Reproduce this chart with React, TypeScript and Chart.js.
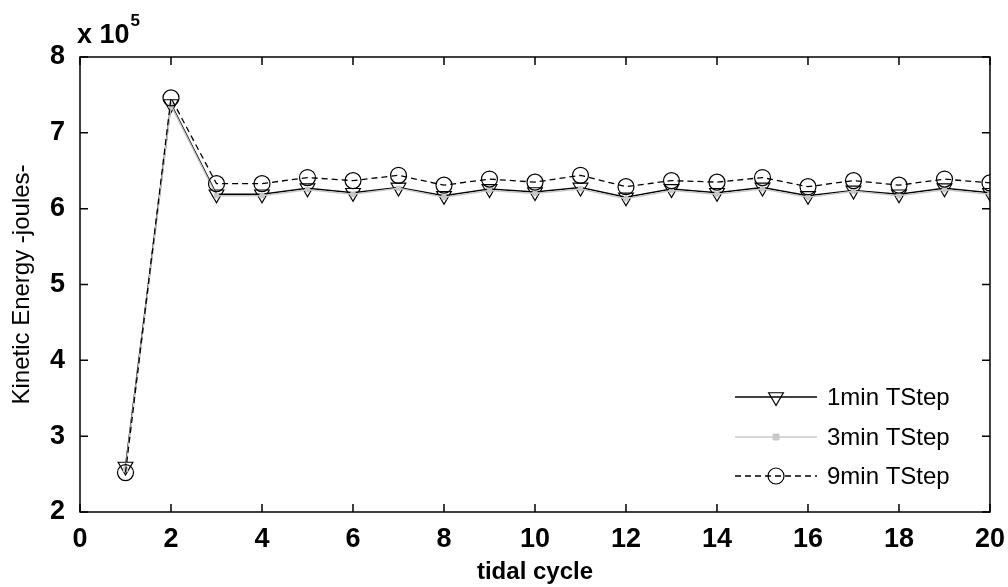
import React, { useEffect, useRef } from "react";
import { Chart, registerables } from "chart.js";

Chart.register(...registerables);

const cycles = [1, 2, 3, 4, 5, 6, 7, 8, 9, 10, 11, 12, 13, 14, 15, 16, 17, 18, 19, 20];
const oneMin = [2.6, 7.38, 6.19, 6.19, 6.27, 6.21, 6.28, 6.17, 6.26, 6.22, 6.28, 6.15, 6.26, 6.21, 6.28, 6.17, 6.24, 6.19, 6.27, 6.21];
const threeMin = [2.56, 7.36, 6.17, 6.17, 6.25, 6.19, 6.27, 6.15, 6.24, 6.2, 6.26, 6.13, 6.24, 6.19, 6.26, 6.15, 6.23, 6.17, 6.25, 6.19];
const nineMin = [2.52, 7.46, 6.33, 6.33, 6.41, 6.37, 6.44, 6.31, 6.39, 6.35, 6.44, 6.29, 6.37, 6.35, 6.41, 6.29, 6.37, 6.31, 6.39, 6.34];
const seriesLabels = ["1min TStep", "3min TStep", "9min TStep"];
const xTickValues = [0, 2, 4, 6, 8, 10, 12, 14, 16, 18, 20];
const yTickValues = [2, 3, 4, 5, 6, 7, 8];
const xAxisTitle = "tidal cycle";
const yAxisTitle = "Kinetic Energy -joules-";
const exponentBase = "x 10";
const exponentPower = "5";

const toPoints = (ys: number[]) => cycles.map((x, i) => ({ x, y: ys[i] }));

function drawMarker(ctx: CanvasRenderingContext2D, style: string, x: number, y: number, r: number, fill: string, stroke: string, lw: number) {
  ctx.save();
  ctx.beginPath();
  if (style === "triangleDown") {
    for (let k = 0; k < 3; k++) {
      const a = Math.PI + (k * 2 * Math.PI) / 3;
      const px = x + Math.sin(a) * r;
      const py = y - Math.cos(a) * r;
      if (k === 0) ctx.moveTo(px, py);
      else ctx.lineTo(px, py);
    }
    ctx.closePath();
  } else if (style === "rect") {
    ctx.rect(x - r, y - r, 2 * r, 2 * r);
  } else {
    ctx.arc(x, y, r, 0, Math.PI * 2);
  }
  ctx.setLineDash([]);
  if (fill !== "transparent") {
    ctx.fillStyle = fill;
    ctx.fill();
  }
  ctx.strokeStyle = stroke;
  ctx.lineWidth = lw;
  ctx.stroke();
  ctx.restore();
}

const framePlugin = {
  id: "matlabFrame",
  afterDraw(chart: any) {
    const { ctx, chartArea } = chart;
    const { left, right, top, bottom } = chartArea;
    const xs = chart.scales.x;
    const ys = chart.scales.y;
    const tl = 8;
    ctx.save();
    ctx.strokeStyle = "#000";
    ctx.lineWidth = 1.5;
    ctx.setLineDash([]);
    ctx.strokeRect(left, top, right - left, bottom - top);
    ctx.beginPath();
    xTickValues.forEach((v) => {
      const px = xs.getPixelForValue(v);
      ctx.moveTo(px, bottom);
      ctx.lineTo(px, bottom - tl);
      ctx.moveTo(px, top);
      ctx.lineTo(px, top + tl);
    });
    yTickValues.forEach((v) => {
      const py = ys.getPixelForValue(v);
      ctx.moveTo(left, py);
      ctx.lineTo(left + tl, py);
      ctx.moveTo(right, py);
      ctx.lineTo(right - tl, py);
    });
    ctx.stroke();

    // exponent label
    ctx.fillStyle = "#000";
    ctx.textBaseline = "alphabetic";
    ctx.textAlign = "left";
    ctx.font = "bold 27px 'Liberation Sans'";
    ctx.fillText(exponentBase, 77, 43);
    const w = ctx.measureText(exponentBase).width;
    ctx.font = "bold 17px 'Liberation Sans'";
    ctx.fillText(exponentPower, 77 + w + 1, 26);

    // legend (no box)
    const rows = [397, 437, 476];
    const lx0 = 735;
    const lx1 = 817;
    const mx = 776;
    const ds = chart.data.datasets;
    ds.forEach((d: any, i: number) => {
      const y = rows[i];
      ctx.save();
      ctx.strokeStyle = d.borderColor;
      ctx.lineWidth = d.borderWidth;
      ctx.setLineDash(d.borderDash || []);
      ctx.beginPath();
      ctx.moveTo(lx0, y);
      ctx.lineTo(lx1, y);
      ctx.stroke();
      ctx.restore();
      drawMarker(ctx, d.legendMarker, mx, y, d.pointRadius, d.pointBackgroundColor, d.pointBorderColor, d.pointBorderWidth);
      ctx.fillStyle = "#000";
      ctx.font = "24px 'Liberation Sans'";
      ctx.textAlign = "left";
      ctx.textBaseline = "middle";
      ctx.fillText(d.label, 827, y + 1);
    });
    ctx.restore();
  },
};

export default function App() {
  const ref = useRef<HTMLCanvasElement | null>(null);

  useEffect(() => {
    if (!ref.current) return;
    const chart = new Chart(ref.current, {
      type: "line",
      data: {
        datasets: [
          {
            label: seriesLabels[0],
            data: toPoints(oneMin),
            borderColor: "#000000",
            borderWidth: 1.5,
            pointStyle: "triangle",
            pointRotation: 180,
            pointRadius: 8.5,
            pointBackgroundColor: "transparent",
            pointBorderColor: "#000000",
            pointBorderWidth: 1.2,
            order: 3,
            legendMarker: "triangleDown",
          } as any,
          {
            label: seriesLabels[1],
            data: toPoints(threeMin),
            borderColor: "#c8c8c8",
            borderWidth: 1.5,
            pointStyle: "rect",
            pointRadius: 3,
            pointBackgroundColor: "#c8c8c8",
            pointBorderColor: "#c8c8c8",
            pointBorderWidth: 1,
            order: 2,
            legendMarker: "rect",
          } as any,
          {
            label: seriesLabels[2],
            data: toPoints(nineMin),
            borderColor: "#000000",
            borderWidth: 1.3,
            borderDash: [6, 4],
            pointStyle: "circle",
            pointRadius: 8,
            pointBackgroundColor: "transparent",
            pointBorderColor: "#000000",
            pointBorderWidth: 1.2,
            order: 1,
            legendMarker: "circle",
          } as any,
        ],
      },
      options: {
        animation: false,
        responsive: false,
        devicePixelRatio: 1,
        layout: { padding: { top: 57, right: 18, left: 0, bottom: 0 } },
        plugins: {
          legend: { display: false },
          tooltip: { enabled: false },
        },
        elements: { line: { tension: 0 } },
        scales: {
          x: {
            type: "linear",
            min: 0,
            max: 20,
            grid: { display: false },
            border: { display: false },
            afterBuildTicks: (axis: any) => {
              axis.ticks = xTickValues.map((v) => ({ value: v }));
            },
            ticks: {
              color: "#000",
              padding: 3,
              maxRotation: 0,
              autoSkip: false,
              font: { family: "'Liberation Sans'", size: 27, weight: "bold" },
            },
            title: {
              display: true,
              text: xAxisTitle,
              color: "#000",
              padding: { top: 0, bottom: 0 },
              font: { family: "'Liberation Sans'", size: 24, weight: "bold" },
            },
            afterFit: (axis: any) => {
              axis.height = 75;
            },
          },
          y: {
            type: "linear",
            min: 2,
            max: 8,
            grid: { display: false },
            border: { display: false },
            afterBuildTicks: (axis: any) => {
              axis.ticks = yTickValues.map((v) => ({ value: v }));
            },
            ticks: {
              color: "#000",
              padding: 7,
              autoSkip: false,
              font: { family: "'Liberation Sans'", size: 27, weight: "bold" },
            },
            title: {
              display: true,
              text: yAxisTitle,
              color: "#000",
              padding: { top: 8, bottom: 0 },
              font: { family: "'Liberation Sans'", size: 24 },
            },
            afterFit: (axis: any) => {
              axis.width = 80;
            },
          },
        },
      },
      plugins: [framePlugin],
    });
    return () => chart.destroy();
  }, []);

  return (
    <div style={{ position: "absolute", left: 0, top: 0, width: 1008, height: 587, background: "#fff" }}>
      <canvas ref={ref} width={1008} height={587} style={{ display: "block" }} />
    </div>
  );
}
